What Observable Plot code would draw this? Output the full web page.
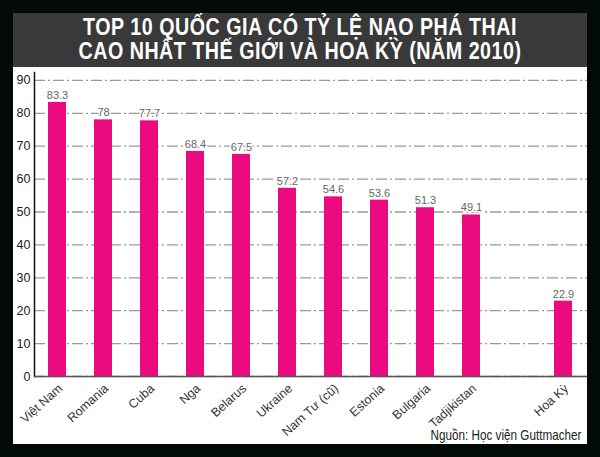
<!DOCTYPE html>
<html><head><meta charset="utf-8">
<script src="https://cdn.jsdelivr.net/npm/d3@7"></script>
<script src="https://cdn.jsdelivr.net/npm/@observablehq/plot@0.6"></script>
<style>
html,body{margin:0;padding:0;background:#020a05;width:600px;height:457px;overflow:hidden}
#panel{position:absolute;left:13px;top:13px;width:574px;height:431px;background:#fff}
#titlebar{height:54px;background:#393939;overflow:hidden}
#title{color:#fff;text-align:center;font:700 23px/23.5px "Liberation Sans",sans-serif;letter-spacing:0.6px;padding-top:3px;text-transform:uppercase;transform:scaleX(0.855);transform-origin:center;white-space:nowrap}
#chart svg{display:block;background:transparent}
#source{position:absolute;right:6px;bottom:1px;font:15px "Liberation Sans",sans-serif;color:#222;transform:scaleX(0.78);transform-origin:right;white-space:nowrap}
</style></head><body>
<div id="panel">
<div id="titlebar"><div id="title">Top 10 quốc gia có tỷ lệ nạo phá thai<br>cao nhất thế giới và Hoa Kỳ (năm 2010)</div></div>
<div id="chart"></div>
<div id="source">Nguồn: Học viện Guttmacher</div>
</div>
<script>
const countries = ["Việt Nam","Romania","Cuba","Nga","Belarus","Ukraine","Nam Tư (cũ)","Estonia","Bulgaria","Tadjikistan","Hoa Kỳ"];
const values = [83.3,78,77.7,68.4,67.5,57.2,54.6,53.6,51.3,49.1,22.9];
const xDomain = ["Việt Nam","Romania","Cuba","Nga","Belarus","Ukraine","Nam Tư (cũ)","Estonia","Bulgaria","Tadjikistan"," ","Hoa Kỳ"];
const yTicks = [0,10,20,30,40,50,60,70,80,90];
const rows = countries.map((c,i)=>({c,v:values[i]}));
const font = "'Liberation Sans',sans-serif";
const plot = Plot.plot({
  width:574,height:377,
  marginLeft:21,marginRight:0,marginTop:5,marginBottom:68,
  style:{background:"transparent",fontFamily:font},
  x:{domain:xDomain,paddingInner:0.6,paddingOuter:0.3,label:null},
  y:{domain:[0,92.4],label:null},
  marks:[
    Plot.gridY(yTicks,{stroke:"#999",strokeOpacity:1,strokeWidth:1.3,strokeDasharray:"11 3 2 3"}),
    Plot.barY(rows,{x:"c",y:"v",fill:"#ec0a80"}),
    Plot.text(rows,{x:"c",y:"v",text:d=>String(d.v),dy:-7,fontSize:11,fill:"#666",stroke:"#fff",strokeWidth:3}),
    Plot.frame({anchor:"left",stroke:"#111",strokeWidth:1.5}),
    Plot.ruleY([0],{stroke:"#555",strokeWidth:1.5}),
    Plot.axisY({ticks:yTicks,tickSize:0,tickPadding:4,fontSize:12.5,color:"#222",label:null}),
    Plot.axisX({tickSize:0,tickRotate:-42,tickPadding:10,dx:3,fontSize:12.5,color:"#333",label:null,tickFormat:d=>d})
  ]
});
document.getElementById("chart").append(plot);
</script>
</body></html>
